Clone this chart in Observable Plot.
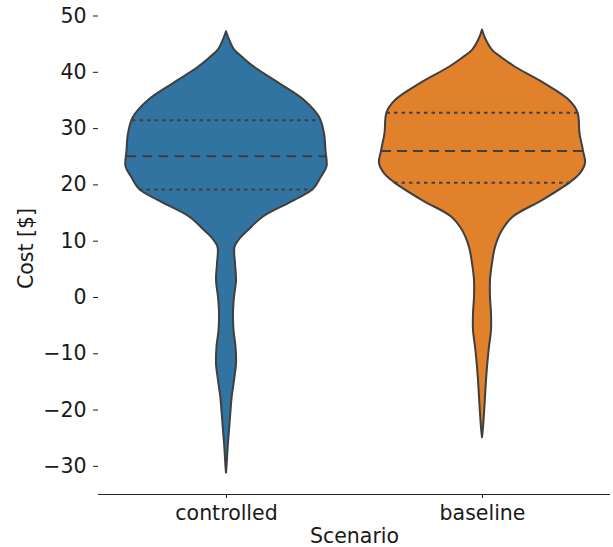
<!DOCTYPE html>
<html>
<head>
<meta charset="utf-8">
<script src="https://cdn.jsdelivr.net/npm/d3@7"></script>
<script src="https://cdn.jsdelivr.net/npm/@observablehq/plot@0.6"></script>
<style>
  html, body { margin: 0; padding: 0; background: #ffffff; }
  #chart { width: 613px; height: 547px; }
</style>
</head>
<body>
<div id="chart"></div>
<script>
// Categories and colours
const scenarios = ["controlled", "baseline"];
const scenarioColors = ["#3274a1", "#e1812c"];

// Violin profile: cost value and relative density (half-width)
const controlledCost = [-31.2, -29.6, -26.6, -23.6, -20.7, -17.7, -14.8, -11.8, -8.8, -5.9, -2.9, 0, 3, 6, 8.9, 10.5, 11.9, 14.3, 17.2, 19.2, 21.4, 23.2, 26, 29.1, 32, 35, 38, 40.9, 42.5, 44, 46, 47.2];
const controlledDensity = [0, 0.007, 0.017, 0.03, 0.043, 0.057, 0.08, 0.10, 0.095, 0.075, 0.07, 0.08, 0.10, 0.09, 0.085, 0.14, 0.22, 0.37, 0.68, 0.87, 0.95, 1.005, 0.995, 0.98, 0.93, 0.78, 0.53, 0.28, 0.17, 0.08, 0.025, 0];

const baselineCost = [-24.9, -23.6, -20.7, -17.7, -14.8, -11.8, -8.8, -5.9, -2.9, 0, 3, 6, 8.9, 11.9, 14.3, 17.2, 20.4, 22, 23.8, 26, 29.1, 32.8, 35, 38, 40.9, 42.5, 43.9, 46, 47.5];
const baselineDensity = [0, 0.008, 0.02, 0.03, 0.04, 0.053, 0.07, 0.09, 0.09, 0.08, 0.08, 0.10, 0.13, 0.20, 0.31, 0.60, 0.88, 0.98, 1.03, 1.01, 0.975, 0.955, 0.87, 0.62, 0.33, 0.20, 0.10, 0.03, 0];

// Quartiles [Q1, median, Q3]
const controlledQuartiles = [19.2, 25.1, 31.5];
const baselineQuartiles = [20.4, 26.0, 32.8];

// Axis ticks
const yTicks = [-30, -20, -10, 0, 10, 20, 30, 40, 50];

// ---- build tables ----
const profiles = {
  controlled: {cost: controlledCost, density: controlledDensity, q: controlledQuartiles},
  baseline: {cost: baselineCost, density: baselineDensity, q: baselineQuartiles}
};
const violinRows = [];
const quartileRows = [];
for (const s of scenarios) {
  const p = profiles[s];
  p.cost.forEach((c, i) => violinRows.push({scenario: s, cost: c, density: p.density[i]}));
  const interp = d3.scaleLinear().domain(p.cost).range(p.density);
  p.q.forEach((v, i) => quartileRows.push({scenario: s, cost: v, w: interp(v), kind: i === 1 ? "median" : "quartile"}));
}

const chart = Plot.plot({
  width: 613,
  height: 547,
  marginLeft: 97,
  marginRight: 3,
  marginTop: 2,
  marginBottom: 53,
  style: {fontFamily: "DejaVu Sans, sans-serif", fontSize: "20px", color: "#1a1a1a", background: "#ffffff"},
  fx: {domain: scenarios, padding: 0, label: "Scenario"},
  x: {domain: [-1.28, 1.28], axis: null},
  y: {domain: [-35, 52.4], label: "Cost [$]"},
  color: {domain: scenarios, range: scenarioColors},
  marks: [
    Plot.areaX(violinRows, {
      fx: "scenario", y: "cost", x1: d => -d.density, x2: "density",
      fill: "scenario", stroke: "#3f3f3f", strokeWidth: 2, curve: "catmull-rom"
    }),
    Plot.ruleY(quartileRows.filter(d => d.kind === "median"), {
      fx: "scenario", y: "cost", x1: d => -d.w, x2: "w",
      stroke: "#3f3f3f", strokeWidth: 2, strokeDasharray: "10,6"
    }),
    Plot.ruleY(quartileRows.filter(d => d.kind === "quartile"), {
      fx: "scenario", y: "cost", x1: d => -d.w, x2: "w",
      stroke: "#3f3f3f", strokeWidth: 2, strokeDasharray: "3.5,4"
    }),
    Plot.ruleY([-35], {stroke: "#262626", strokeWidth: 1.2}),
    Plot.axisY({
      ticks: yTicks, tickFormat: d3.format("d"), tickSize: 5, tickPadding: 7,
      fontSize: 20.5, label: "Cost [$]", labelAnchor: "center", labelOffset: 80, labelArrow: "none"
    }),
    Plot.axisFx({
      anchor: "bottom", tickSize: 4, tickPadding: 7, fontSize: 20.5,
      label: "Scenario", labelAnchor: "center", labelOffset: 48, labelArrow: "none"
    })
  ]
});
document.getElementById("chart").appendChild(chart);
</script>
</body>
</html>
